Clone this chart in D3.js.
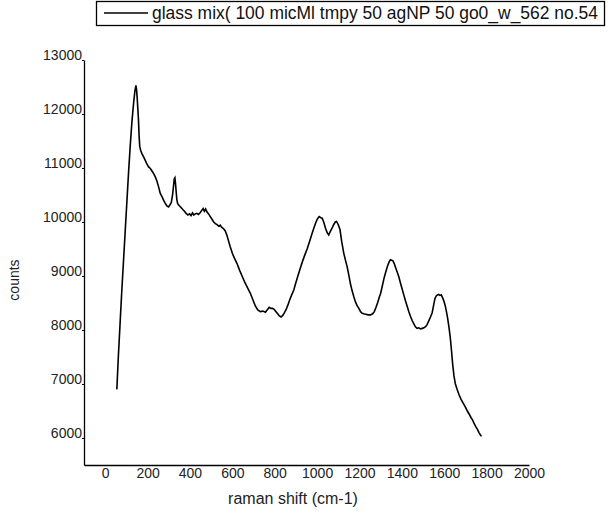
<!DOCTYPE html>
<html><head><meta charset="utf-8">
<script src="https://cdn.jsdelivr.net/npm/d3@7"></script>
<style>
html,body{margin:0;padding:0;background:#fff;}
svg{display:block;font-family:"Liberation Sans",Arial,sans-serif;}
</style></head>
<body><svg id="chart" width="609" height="513"></svg>
<script>
const seriesName = "glass mix( 100 micMl tmpy 50 agNP 50 go0_w_562 no.54";
const xTitle = "raman shift (cm-1)";
const yTitle = "counts";
const xTicks = [0,200,400,600,800,1000,1200,1400,1600,1800,2000];
const yTicks = [6000,7000,8000,9000,10000,11000,12000,13000];
const ramanShift = [55,62,70,78,86,94,102,110,118,126,134,140,145,148,151,154,157,160,163,168,175,182,189,196,205,213,220,228,236,244,252,260,268,276,283,291,299,306,312,318,322,326,329,332,335,338,342,350,358,366,374,382,390,398,405,412,418,425,432,440,448,455,462,468,474,480,488,496,504,512,520,528,536,543,550,558,566,574,582,590,600,610,622,635,647,659,672,685,697,709,720,732,744,756,766,774,782,790,798,806,814,822,830,838,846,854,862,870,880,890,900,910,921,932,943,953,963,974,984,994,1002,1010,1018,1024,1032,1040,1048,1055,1062,1070,1078,1086,1092,1100,1108,1116,1126,1134,1142,1150,1157,1165,1173,1181,1189,1197,1205,1213,1220,1230,1240,1252,1262,1270,1278,1286,1293,1300,1308,1316,1323,1332,1340,1346,1352,1358,1364,1372,1380,1386,1394,1402,1409,1417,1425,1433,1441,1448,1456,1464,1472,1480,1488,1496,1504,1512,1519,1527,1535,1543,1550,1556,1562,1568,1574,1580,1586,1592,1598,1604,1610,1616,1622,1628,1634,1640,1646,1652,1661,1670,1680,1690,1700,1709,1718,1726,1734,1742,1750,1758,1764,1770,1776];
const counts = [6900,7500,8100,8700,9250,9800,10350,10900,11400,11850,12200,12420,12530,12450,12300,12100,11900,11600,11400,11320,11250,11200,11140,11080,11020,10990,10950,10900,10840,10760,10650,10530,10470,10400,10350,10300,10280,10320,10360,10500,10650,10800,10820,10700,10560,10420,10340,10300,10270,10230,10200,10160,10130,10150,10120,10170,10130,10150,10160,10140,10170,10210,10250,10200,10240,10190,10150,10100,10050,10000,9970,9950,9920,9940,9900,9880,9840,9760,9650,9540,9420,9330,9230,9100,8990,8880,8780,8680,8560,8440,8370,8340,8350,8330,8380,8420,8400,8400,8380,8340,8300,8260,8240,8270,8320,8380,8460,8550,8650,8740,8880,9010,9150,9280,9400,9500,9620,9760,9880,9990,10060,10100,10080,10070,9990,9880,9800,9760,9820,9880,9950,10000,10010,9950,9860,9640,9420,9290,9170,9010,8860,8730,8620,8520,8450,8400,8340,8310,8300,8290,8280,8280,8300,8340,8420,8510,8600,8680,8820,8960,9060,9180,9260,9300,9290,9280,9230,9140,9050,8980,8860,8750,8650,8540,8440,8340,8250,8180,8120,8060,8030,8040,8020,8030,8040,8060,8100,8170,8240,8320,8460,8580,8630,8650,8660,8640,8650,8600,8540,8460,8350,8220,8060,7880,7630,7360,7150,7010,6900,6800,6710,6640,6570,6500,6440,6380,6330,6260,6200,6150,6100,6060,6030];

const svg = d3.select("#chart");
const x = d3.scaleLinear().domain([-100, 2000]).range([84, 529]);
const y = d3.scaleLinear().domain([5500, 13000]).range([465, 60]);
const fmt = d3.format("d");

const data = ramanShift.map((v, i) => [v, counts[i]]);

// axes
const xAxis = svg.append("g").attr("transform", "translate(0,465)")
  .call(d3.axisBottom(x).tickValues(xTicks).tickFormat(fmt).tickSize(0).tickPadding(3).tickSizeOuter(0));
xAxis.select(".domain").attr("stroke", "#000").attr("stroke-width", 1.3);
xAxis.selectAll("text").attr("font-size", 14).attr("fill", "#222")
  .attr("font-family", "Liberation Sans, Arial, sans-serif");

const yAxis = svg.append("g").attr("transform", "translate(84,0)")
  .call(d3.axisLeft(y).tickValues(yTicks).tickFormat(fmt).tickSize(2).tickPadding(0).tickSizeOuter(0));
yAxis.select(".domain").attr("stroke", "#000").attr("stroke-width", 1.3);
yAxis.selectAll("line").attr("stroke", "#000");
yAxis.selectAll("text").attr("font-size", 14).attr("fill", "#222").attr("y", -5)
  .attr("font-family", "Liberation Sans, Arial, sans-serif");

// line
svg.append("path").datum(data)
  .attr("fill", "none").attr("stroke", "#000").attr("stroke-width", 1.6)
  .attr("stroke-linejoin", "miter")
  .attr("d", d3.line().x(d => x(d[0])).y(d => y(d[1])));

// titles
svg.append("text").attr("x", 293).attr("y", 504).attr("text-anchor", "middle")
  .attr("font-size", 16).attr("fill", "#222").text(xTitle);
svg.append("text").attr("transform", "translate(19,280) rotate(-90)")
  .attr("text-anchor", "middle").attr("font-size", 14).attr("fill", "#222").text(yTitle);

// legend
const lg = svg.append("g");
lg.append("rect").attr("x", 96.5).attr("y", 1.5).attr("width", 508).attr("height", 24)
  .attr("fill", "#fff").attr("stroke", "#000").attr("stroke-width", 1.3);
lg.append("line").attr("x1", 104).attr("x2", 148).attr("y1", 13).attr("y2", 13)
  .attr("stroke", "#000").attr("stroke-width", 1.6);
lg.append("text").attr("x", 152).attr("y", 19).attr("font-size", 17.5).attr("fill", "#111")
  .attr("textLength", 446).attr("lengthAdjust", "spacingAndGlyphs").text(seriesName);
</script></body></html>
